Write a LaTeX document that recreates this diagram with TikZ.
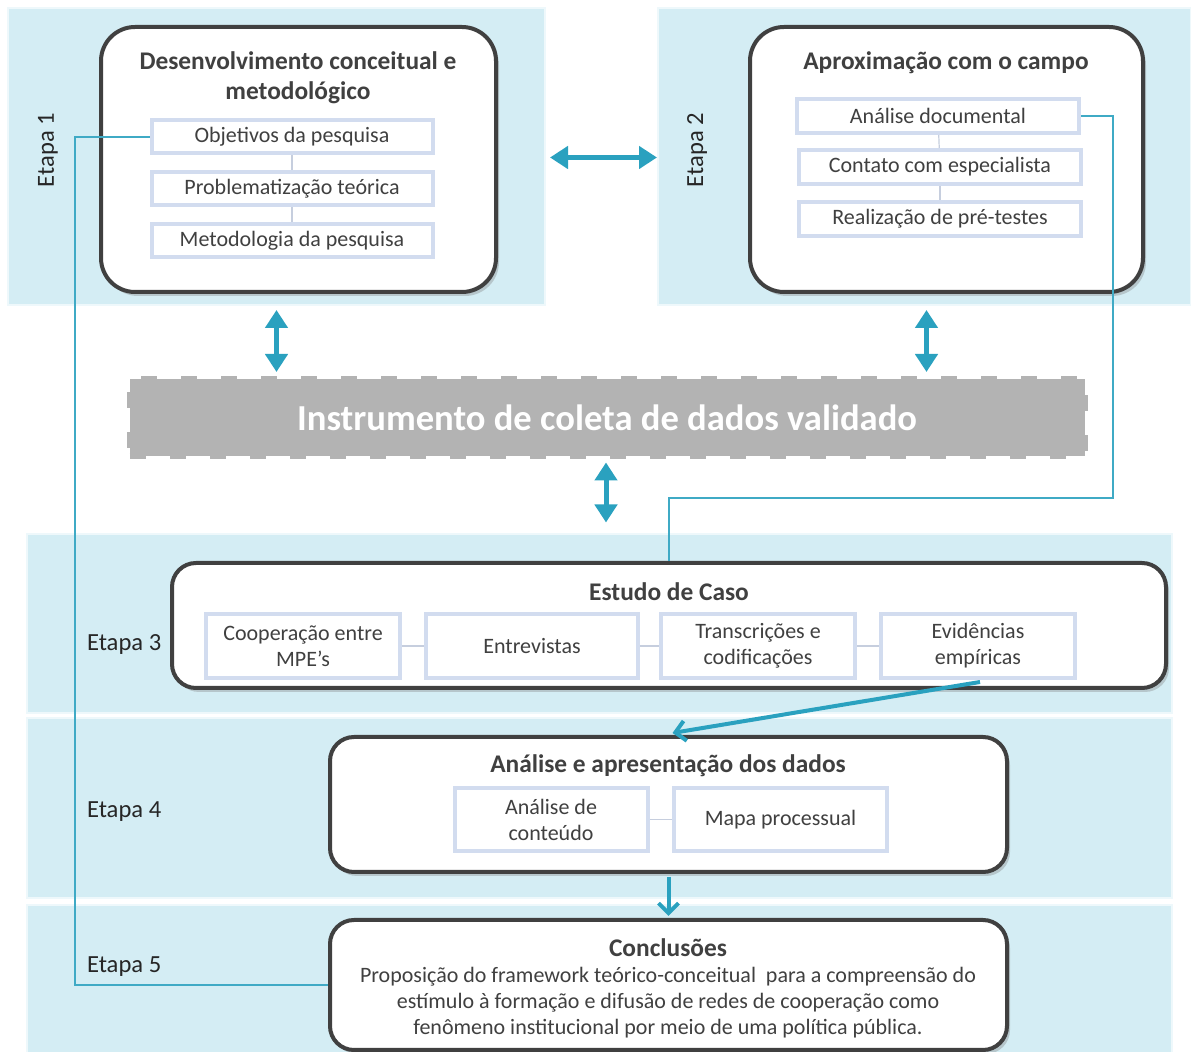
\documentclass[tikz,border=0pt]{standalone}
\usepackage{fontspec}
\setmainfont{Carlito}
\usetikzlibrary{positioning,arrows.meta,shadows}
\definecolor{fundo}{HTML}{D4EDF4}
\definecolor{azul}{HTML}{2AA1BF}
\definecolor{borda}{HTML}{404040}
\definecolor{lilas}{HTML}{D2DCEF}
\definecolor{texto}{HTML}{404040}
\definecolor{cinza}{HTML}{B3B3B3}

\begin{document}
\begin{tikzpicture}[x=0.5pt,y=-0.5pt,
  etapa/.style={fill=fundo, draw=white!60!fundo, line width=1pt},
  caixa/.style={draw=borda, line width=2pt, fill=white, rounded corners=17pt,
    drop shadow={opacity=0.35, shadow xshift=1.5pt, shadow yshift=-2pt}},
  item/.style={draw=lilas, line width=2pt, fill=white, align=center, inner sep=1pt,
    font=\fontsize{11}{13}\selectfont, text=texto},
  titulo/.style={font=\bfseries\fontsize{12.7}{15}\selectfont, text=texto, align=center},
  rotulo/.style={font=\fontsize{12.3}{14}\selectfont, text=black!85},
  liga/.style={draw=lilas!85!gray, line width=0.6pt},
  seta/.style={azul, line width=2.5pt, {Triangle[width=11pt,length=9pt]}-{Triangle[width=11pt,length=9pt]}},
  setab/.style={azul, line width=2pt, -{Straight Barb[length=5pt,width=10pt,line width=2pt]}},
  linha/.style={azul!90!white, line width=1pt}]
\useasboundingbox (0,0) rectangle (1191,1052);

\path[etapa] (8,8) rectangle (545,305);
\path[etapa] (658,8) rectangle (1191,305);
\path[etapa] (27,534) rectangle (1172,713);
\path[etapa] (27,718) rectangle (1172,898);
\path[etapa] (27,905) rectangle (1172,1060);

\node[rotulo, rotate=90] (e1) at (48,150) {Etapa 1};
\node[rotulo, rotate=90] (e2) at (697,150) {Etapa 2};
\node[rotulo, anchor=west] (e3) at (80,645) {Etapa 3};
\node[rotulo, anchor=west] (e4) at (80,812) {Etapa 4};
\node[rotulo, anchor=west] (e5) at (80,967) {Etapa 5};

% etapa 1 e 2
\node[caixa, minimum width=197.5pt, minimum height=132.5pt] (caixa1) at (298.5,159.5) {};
\node[titulo] (t1) at (298,78) {Desenvolvimento conceitual e\\metodológico};
\node[item, minimum width=140.5pt, minimum height=16.5pt] (obj) at (292,137) {Objetivos da pesquisa};
\node[item, minimum width=140.5pt, minimum height=16.5pt] (prob) at (292,189) {Problematização teórica};
\node[item, minimum width=140.5pt, minimum height=16.5pt] (met) at (292,241) {Metodologia da pesquisa};
\draw[liga] (obj) -- (prob);
\draw[liga] (prob) -- (met);

\node[caixa, minimum width=196.5pt, minimum height=132.5pt] (caixa2) at (946.5,159.5) {};
\node[titulo] (t2) at (946,63) {Aproximação com o campo};
\node[item, minimum width=141pt, minimum height=17pt] (doc) at (938,116) {Análise documental};
\node[item, minimum width=141pt, minimum height=17pt] (esp) at (940,167) {Contato com especialista};
\node[item, minimum width=141pt, minimum height=17pt] (pre) at (940,219) {Realização de pré-testes};
\draw[liga] (doc) -- (esp);
\draw[liga] (esp) -- (pre);

\node[fill=cinza, draw=cinza, line width=3pt, dash pattern=on 8pt off 12pt,
  minimum width=477.5pt, minimum height=38.5pt, text=white,
  font=\bfseries\fontsize{18.3}{20}\selectfont] (banner) at (607,418) {Instrumento de coleta de dados validado};

\draw[seta] (caixa1.east) ++(52,-2) -- ++(107,0);
\draw[seta] (caixa1.south) ++(-22,16) -- ++(0,62);
\draw[seta] (caixa2.south) ++(-20,16) -- ++(0,62);
\draw[seta] (banner.south) ++(-1,3) -- ++(0,60);

% etapa 3
\node[caixa, rounded corners=12pt, minimum width=497pt, minimum height=62.5pt] (caixa3) at (669,625.5) {};
\node[titulo] (t3) at (669,592) {Estudo de Caso};
\node[item, minimum width=97pt, minimum height=32pt] (coop) at (303,646) {Cooperação entre\\MPE’s};
\node[item, minimum width=106pt, minimum height=32pt] (entr) at (532,646) {Entrevistas};
\node[item, minimum width=97pt, minimum height=32pt] (trans) at (758,646) {Transcrições e\\codificações};
\node[item, minimum width=97pt, minimum height=32pt] (evid) at (978,646) {Evidências\\empíricas};
\draw[liga] (coop) -- (entr);
\draw[liga] (entr) -- (trans);
\draw[liga] (trans) -- (evid);

% etapa 4
\node[caixa, rounded corners=12pt, minimum width=338.5pt, minimum height=67.5pt] (caixa4) at (668.5,804.5) {};
\node[titulo] (t4) at (668,766) {Análise e apresentação dos dados};
\node[item, minimum width=96.5pt, minimum height=31.5pt] (cont) at (551,819.5) {Análise de\\conteúdo};
\node[item, minimum width=106.5pt, minimum height=31.5pt] (mapa) at (780.5,819.5) {Mapa processual};
\draw[liga] (cont) -- (mapa);

% etapa 5
\node[caixa, rounded corners=12pt, minimum width=338.5pt, minimum height=65pt] (caixa5) at (668.5,985) {};
\node[titulo] (t5) at (668,948) {Conclusões};
\node[font=\fontsize{11}{13}\selectfont, text=texto, align=center] (prop) at (668,1003)
  {Proposição do framework teórico-conceitual\ \ para a compreensão do\\
   estímulo à formação e difusão de redes de cooperação como\\
   fenômeno institucional por meio de uma política pública.};

\draw[setab] ([xshift=1pt,yshift=-1pt]evid.south) -- ([xshift=2pt,yshift=1pt]caixa4.north);
\draw[setab] ([yshift=-1.5pt]caixa4.south) -- ([yshift=1pt]caixa5.north);

\coordinate (dobra) at (669,498);
\draw[linha] (obj.west) -- ++(-75,0) |- (caixa5.west);
\draw[linha] (doc.east) -- ++(32,0) |- (dobra) -- (caixa3.north);
\end{tikzpicture}
\end{document}
